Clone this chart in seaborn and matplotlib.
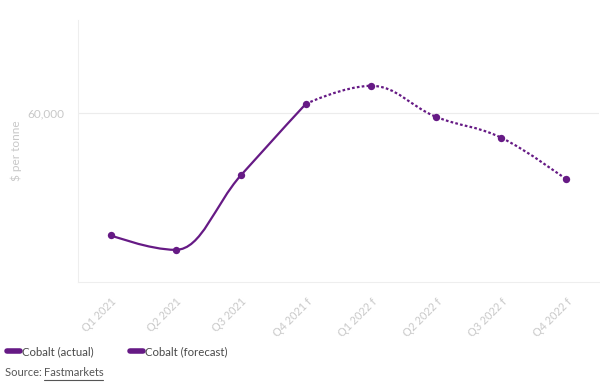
import numpy as np
import pandas as pd
import matplotlib
matplotlib.use("Agg")
import matplotlib.pyplot as plt
import seaborn as sns
from matplotlib.path import Path
from matplotlib.patches import PathPatch
from matplotlib.lines import Line2D

# Data ($ per tonne)
quarters = ["Q1 2021", "Q2 2021", "Q3 2021", "Q4 2021 f",
            "Q1 2022 f", "Q2 2022 f", "Q3 2022 f", "Q4 2022 f"]
actual_idx = [0, 1, 2, 3]
actual_vals = [38300, 35700, 48900, 61600]
forecast_idx = [3, 4, 5, 6, 7]
forecast_vals = [61600, 64800, 59300, 55600, 48200]

purple = "#661a85"
grey = "#c8c8c8"

sns.set_theme(style="white")
plt.rcParams["font.family"] = ["Lato", "DejaVu Sans"]


def spline_path(xs, ys, smoothing=1.5):
    # Highcharts-style spline: bezier control points around each point
    n = len(xs)
    left = [None] * n
    right = [None] * n
    denom = smoothing + 1
    for i in range(1, n - 1):
        px, py = xs[i - 1], ys[i - 1]
        nx, ny = xs[i + 1], ys[i + 1]
        x, y = xs[i], ys[i]
        lx = (smoothing * x + px) / denom
        ly = (smoothing * y + py) / denom
        rx = (smoothing * x + nx) / denom
        ry = (smoothing * y + ny) / denom
        corr = ((ry - ly) * (rx - x)) / (rx - lx) + y - ry
        ly += corr
        ry += corr
        if ly > py and ly > y:
            ly = max(py, y)
            ry = 2 * y - ly
        elif ly < py and ly < y:
            ly = min(py, y)
            ry = 2 * y - ly
        if ry > ny and ry > y:
            ry = max(ny, y)
            ly = 2 * y - ry
        elif ry < ny and ry < y:
            ry = min(ny, y)
            ly = 2 * y - ry
        left[i] = (lx, ly)
        right[i] = (rx, ry)
    verts = [(xs[0], ys[0])]
    codes = [Path.MOVETO]
    for i in range(1, n):
        c1 = right[i - 1] if right[i - 1] else (xs[i - 1], ys[i - 1])
        c2 = left[i] if left[i] else (xs[i], ys[i])
        verts += [c1, c2, (xs[i], ys[i])]
        codes += [Path.CURVE4] * 3
    return Path(verts, codes)


fig = plt.figure(figsize=(6, 3.9), dpi=100)
ax = fig.add_axes([0.13, 0.277, 0.868, 0.672])

ax.add_patch(PathPatch(spline_path(actual_idx, actual_vals), fill=False,
                       edgecolor=purple, lw=1.6, capstyle="round"))
ax.add_patch(PathPatch(spline_path(forecast_idx, forecast_vals), fill=False,
                       edgecolor=purple, lw=1.6, linestyle=(0, (1.2, 1.0))))

df = pd.DataFrame({"x": actual_idx + forecast_idx[1:],
                   "y": actual_vals + forecast_vals[1:]})
sns.scatterplot(data=df, x="x", y="y", ax=ax, color=purple, s=28,
                edgecolor=purple, linewidth=0, zorder=3, legend=False)

ax.set_xlim(-0.5, 7.5)
ax.set_ylim(30000, 76500)
ax.set_yticks([60000])
ax.set_yticklabels(["60,000"], color=grey, fontsize=8.5)
ax.set_xticks(range(len(quarters)))
ax.set_xticklabels(quarters, rotation=45, ha="right", rotation_mode="anchor",
                   color=grey, fontsize=7.8)
ax.tick_params(axis="x", length=4, color="#e6e6e6", width=0.8, pad=6)
ax.tick_params(axis="y", length=0, pad=10)
ax.grid(axis="y", color="#ececec", lw=0.8)
ax.set_xlabel("")
ax.set_ylabel("$ per tonne", color=grey, fontsize=8.5, labelpad=4)
for side in ["top", "right"]:
    ax.spines[side].set_visible(False)
for side in ["left", "bottom"]:
    ax.spines[side].set_color("#eeeeee")
    ax.spines[side].set_linewidth(0.8)

handles = [Line2D([0], [0], color=purple, lw=4, solid_capstyle="round"),
           Line2D([0], [0], color=purple, lw=4, solid_capstyle="round")]
fig.legend(handles, ["Cobalt (actual)", "Cobalt (forecast)"], loc="lower left",
           bbox_to_anchor=(-0.005, 0.058), ncol=2, frameon=False, fontsize=8.2,
           handlelength=1.1, handletextpad=0.2, columnspacing=3.2,
           labelcolor="#4a4a4a")

fig.text(0.008, 0.035, "Source: ", fontsize=8, color="#555555")
src = fig.text(0.073, 0.035, "Fastmarkets", fontsize=8, color="#555555")
fig.canvas.draw()
bb = src.get_window_extent().transformed(fig.transFigure.inverted())
fig.add_artist(Line2D([bb.x0, bb.x1], [bb.y0 - 0.004, bb.y0 - 0.004],
                      color="#555555", lw=0.8, transform=fig.transFigure))

fig.savefig("out.png", dpi=100)
